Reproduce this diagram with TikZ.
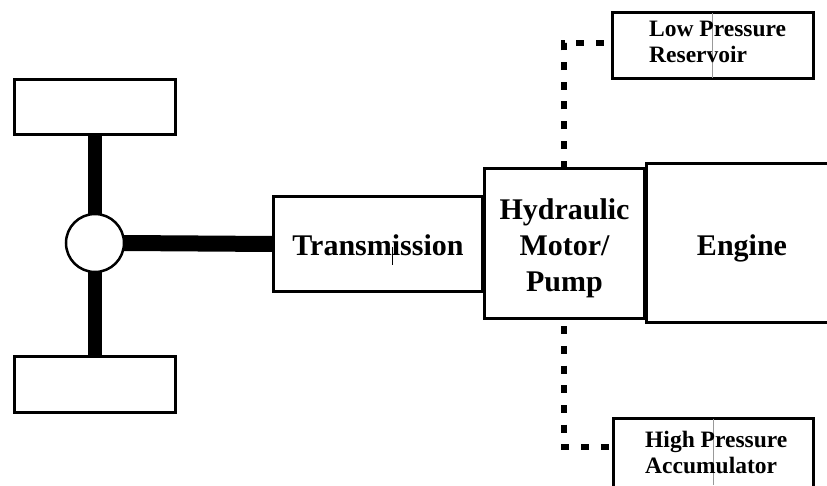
\documentclass[tikz,border=0pt]{standalone}
\usepackage{fontspec}
\setmainfont{Liberation Serif}
\begin{document}
\begin{tikzpicture}[x=1pt,y=-1pt,
  box/.style={draw=black,line width=3pt,fill=white,inner sep=0pt,outer sep=0pt},
  big/.style={font=\bfseries\fontsize{30}{36}\selectfont},
  small/.style={font=\bfseries\fontsize{23.5}{26}\selectfont,align=left,inner sep=0pt,anchor=west},
  shaft/.style={line width=#1,line cap=butt},
  pipe/.style={line width=6.5pt,dash pattern=on 8pt off 11.7pt,line cap=butt},
  cursorline/.style={draw=gray!80,line width=0.8pt}]
\useasboundingbox (0,0) rectangle (827,485);
\clip (0,0) rectangle (827,485);
% wheels and differential
\node[box,minimum width=161pt,minimum height=55pt] (wheelT) at (95,107) {};
\node[box,minimum width=161pt,minimum height=56pt] (wheelB) at (95,384.5) {};
\node[box,circle,line width=2.5pt,minimum size=58pt] (diff) at (95,243) {};
\draw[shaft=14pt] (wheelT.south) -- (diff.north);
\draw[shaft=14pt] (diff.south) -- (wheelB.north);
% powertrain
\node[box,minimum width=209pt,minimum height=95pt] (trans) at (378,244) {};
\node[box,minimum width=191pt,minimum height=159pt] (engine) at (742,243) {};
\node[box,minimum width=160pt,minimum height=150pt] (hyd) at (564.5,243.5) {};
\draw[shaft=16pt] (diff.east) -- (trans.west);
\node[big] (transT) at ([yshift=-1pt]trans.center) {Transmission};
\node[big,align=center] (hydT) at ([yshift=-4.5pt]hyd.center) {Hydraulic\\Motor/\\Pump};
\node[big] (engT) at ([yshift=-5pt]engine.center) {Engine};
% storage
\node[box,minimum width=201pt,minimum height=66pt] (lpr) at (713,45.5) {};
\node[box,minimum width=200pt,minimum height=80pt] (hpa) at (713.5,458.5) {};
\coordinate (cT) at (564,43);
\coordinate (cB) at (564,447);
\draw[pipe] (hyd.north -| cT) -- (cT) -- (cT -| lpr.west);
\draw[pipe,dash phase=12pt] (hyd.south -| cB) -- (cB) -- (cB -| hpa.west);
\draw[cursorline] (712,13) -- (712,78);
\draw[cursorline] (713,419) -- (713,485);
\draw[draw=black,line width=0.8pt] (392,247) -- (392,265);
\node[small] (lprT) at (649,42) {Low Pressure\\Reservoir};
\node[small] (hpaT) at (645,452) {High Pressure\\Accumulator};
\end{tikzpicture}
\end{document}
